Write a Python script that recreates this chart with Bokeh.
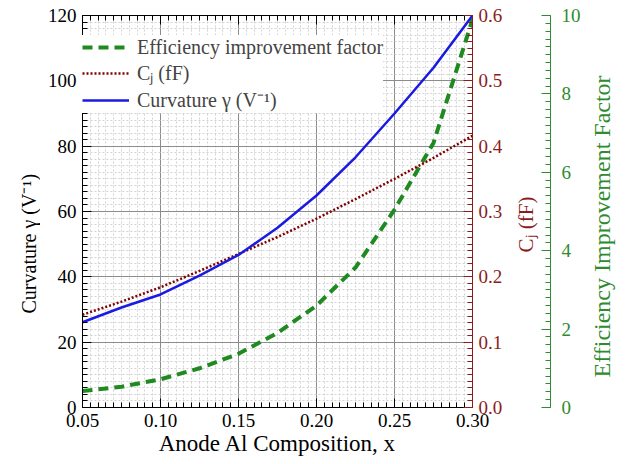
import math
from bokeh.plotting import figure
from bokeh.layouts import row
from bokeh.core.properties import value
from bokeh.models import (Range1d, LinearAxis, FixedTicker, SingleIntervalTicker, Grid,
                          NumeralTickFormatter, CustomJSTickFormatter, Legend, LegendItem)
from bokeh.embed import file_html
from bokeh.resources import INLINE

# values
x_al = [0.05, 0.075, 0.10, 0.125, 0.15, 0.175, 0.20, 0.225, 0.25, 0.275, 0.30]
curvature = [26.1, 30.6, 34.6, 40.4, 46.7, 55.0, 64.9, 76.6, 90.0, 104.0, 120.0]
cj_ff = [0.142, 0.162, 0.184, 0.209, 0.235, 0.261, 0.289, 0.319, 0.350, 0.382, 0.416]
eff_factor = [0.42, 0.53, 0.72, 1.00, 1.37, 1.90, 2.60, 3.57, 5.05, 6.75, 9.90]

x_ticks = [0.05, 0.10, 0.15, 0.20, 0.25, 0.30]
cj_ticks = [0.0, 0.1, 0.2, 0.3, 0.4, 0.5, 0.6]

FONT = "Liberation Serif"
RED = "#8b1c1c"
GREEN = "#2e8b2e"
FW, FH = 390, 392
TOP = 15

x_minor = [round(0.05 + 0.005 * i, 4) for i in range(51)]
cj_minor = [round(0.01 * i, 3) for i in range(61)]
xt = FixedTicker(ticks=x_ticks, minor_ticks=x_minor)
yt = SingleIntervalTicker(interval=20, num_minor_ticks=10)


def style(ax, color="black"):
    ax.major_tick_in = 9
    ax.major_tick_out = 0
    ax.minor_tick_in = 5
    ax.minor_tick_out = 0
    ax.axis_line_color = color
    ax.major_tick_line_color = color
    ax.minor_tick_line_color = color
    ax.major_label_text_color = color
    ax.axis_label_text_color = color
    ax.major_label_text_font = FONT
    ax.major_label_text_font_size = "19px"
    ax.axis_label_text_font = FONT
    ax.axis_label_text_font_size = "23px"
    ax.axis_label_text_font_style = "normal"
    ax.major_label_standoff = 6


def title_panel(width, text, x, y_start, size, color, bottom=0):
    # narrow strip holding a vertical title that reads bottom-to-top
    f = figure(frame_width=width, frame_height=FH, x_range=Range1d(0, width), y_range=Range1d(0, FH),
               x_axis_location=None, y_axis_location=None, output_backend="svg",
               toolbar_location=None, min_border_left=0, min_border_right=0,
               min_border_top=TOP, min_border_bottom=bottom)
    f.outline_line_color = None
    for gr in f.select(type=Grid):
        gr.visible = False
    f.text(x=[x], y=[FH - y_start], text=[text], angle=math.pi / 2, text_align="left",
           text_baseline="middle", text_font=value(FONT), text_font_size=size, text_color=color)
    return f


p = figure(frame_width=FW, frame_height=FH,
           x_range=Range1d(0.05, 0.30), y_range=Range1d(0, 120),
           output_backend="svg", toolbar_location=None,
           min_border_left=42, min_border_top=TOP, min_border_bottom=0, min_border_right=0)
p.outline_line_color = None
p.extra_y_ranges = {"cj": Range1d(0, 0.6), "eff": Range1d(0, 10)}

p.xaxis.ticker = xt
p.xaxis.formatter = NumeralTickFormatter(format="0.00")
p.xaxis.axis_label = "Anode Al Composition, x"
p.yaxis.ticker = yt
style(p.xaxis[0])
style(p.yaxis[0])
p.xaxis.axis_label_standoff = 1

p.xgrid.ticker = xt
p.ygrid.ticker = yt
for g in (p.xgrid, p.ygrid):
    g.grid_line_color = "#8c8c8c"
    g.grid_line_width = 1
    g.minor_grid_line_color = "#d2d2d2"
    g.minor_grid_line_dash = "2 2"

top = LinearAxis(ticker=xt, formatter=CustomJSTickFormatter(code="return ''"))
style(top)
top.major_label_text_font_size = "0px"
top.major_label_standoff = 0
p.add_layout(top, "above")

cj_axis = LinearAxis(y_range_name="cj", ticker=FixedTicker(ticks=cj_ticks, minor_ticks=cj_minor),
                     formatter=NumeralTickFormatter(format="0.0"))
style(cj_axis, RED)
p.add_layout(cj_axis, "right")

g_line = p.line(x_al, eff_factor, y_range_name="eff", color="#1f8a1f", line_width=4, line_dash="10 6")
r_line = p.line(x_al, cj_ff, y_range_name="cj", color="#800000", line_width=2.5, line_dash="2 2")
b_line = p.line(x_al, curvature, color="#1a1ae0", line_width=2.5)

legend = Legend(items=[LegendItem(label="Efficiency improvement factor", renderers=[g_line]),
                       LegendItem(label="Cⱼ (fF)", renderers=[r_line]),
                       LegendItem(label="Curvature γ (V⁻¹)", renderers=[b_line])],
                location=(0, 294))
legend.margin = 0
legend.padding = 15
legend.spacing = 0
legend.label_height = 24
legend.glyph_height = 24
legend.glyph_width = 47
legend.label_standoff = 8
legend.label_text_font = FONT
legend.label_text_font_size = "20px"
legend.border_line_color = None
legend.background_fill_color = "white"
legend.background_fill_alpha = 1.0
p.add_layout(legend)

left_title = title_panel(40, "Curvature γ (V⁻¹)", 28, 298, "20px", "black")

# C_j title strip, carrying the efficiency-factor axis on its right edge
cj_title = title_panel(45, "Cⱼ (fF)", 20, 237, "21px", RED, bottom=20)
cj_title.extra_y_ranges = {"eff": Range1d(0, 10)}
eff_axis = LinearAxis(y_range_name="eff", ticker=SingleIntervalTicker(interval=2, num_minor_ticks=10))
style(eff_axis, GREEN)
eff_axis.major_label_standoff = 11
cj_title.add_layout(eff_axis, "right")

eff_title = title_panel(40, "Efficiency Improvement Factor", 18, 362, "24px", GREEN)

layout = row(left_title, p, cj_title, eff_title)
open("out.html", "w").write(file_html(layout, INLINE))
